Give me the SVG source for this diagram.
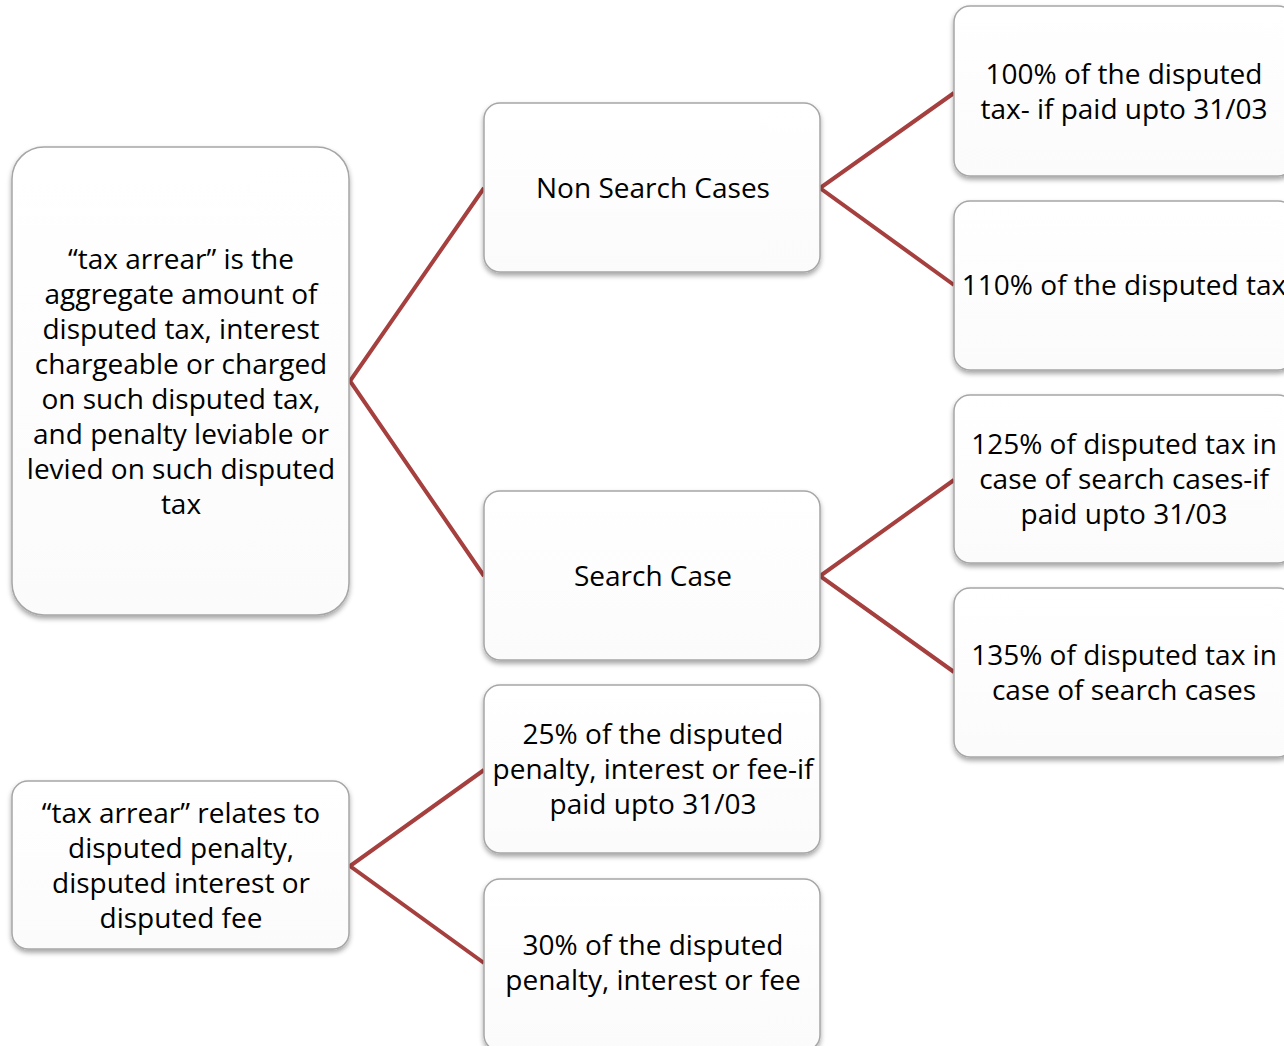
<svg xmlns="http://www.w3.org/2000/svg" width="1284" height="1046" viewBox="0 0 1284 1046">
<defs>
<linearGradient id="g" x1="0" y1="0" x2="0" y2="1">
<stop offset="0" stop-color="#ffffff"/>
<stop offset="1" stop-color="#fbfbfb"/>
</linearGradient>
<filter id="sh" x="-10%" y="-10%" width="120%" height="130%">
<feDropShadow dx="0" dy="3" stdDeviation="2.5" flood-color="#000" flood-opacity="0.35"/>
</filter>
<style>
.box{fill:url(#g);stroke:#a6a6a6;stroke-width:1.5;filter:url(#sh)}
.t{font-family:"Open Sans","Liberation Sans",sans-serif;font-size:28px;fill:#000;text-anchor:middle}
.c{stroke:#a5403f;stroke-width:4;fill:none}
</style>
</defs>
<rect width="1284" height="1046" fill="#fff"/>
<g id="connectors">
<polyline class="c" points="484,188 350,381 484,576"/>
<polyline class="c" points="954,93 820,188 954,285"/>
<polyline class="c" points="954,480 820,576 954,672"/>
<polyline class="c" points="484,770 350,866 484,963"/>
</g>
<g id="tax-arrear">
<rect class="box" x="12" y="147" width="337" height="468" rx="32"/>
<text class="t"><tspan x="181" y="269">“tax arrear” is the</tspan><tspan x="181" y="304">aggregate amount of</tspan><tspan x="181" y="339">disputed tax, interest</tspan><tspan x="181" y="374">chargeable or charged</tspan><tspan x="181" y="409">on such disputed tax,</tspan><tspan x="181" y="444">and penalty leviable or</tspan><tspan x="181" y="479">levied on such disputed</tspan><tspan x="181" y="514">tax</tspan></text>
</g>
<g id="non-search">
<rect class="box" x="484" y="103" width="336" height="169" rx="16"/>
<text class="t" x="653" y="198">Non Search Cases</text>
</g>
<g id="search">
<rect class="box" x="484" y="491" width="336" height="169" rx="16"/>
<text class="t" x="653" y="586">Search Case</text>
</g>
<g id="pct25">
<rect class="box" x="484" y="685" width="336" height="168" rx="16"/>
<text class="t"><tspan x="653" y="744">25% of the disputed</tspan><tspan x="653" y="779">penalty, interest or fee-if</tspan><tspan x="653" y="814">paid upto 31/03</tspan></text>
</g>
<g id="pct30">
<rect class="box" x="484" y="879" width="336" height="172" rx="16"/>
<text class="t"><tspan x="653" y="955">30% of the disputed</tspan><tspan x="653" y="990">penalty, interest or fee</tspan></text>
</g>
<g id="penalty">
<rect class="box" x="12" y="781" width="337" height="168" rx="16"/>
<text class="t"><tspan x="181" y="823">“tax arrear” relates to</tspan><tspan x="181" y="858">disputed penalty,</tspan><tspan x="181" y="893">disputed interest or</tspan><tspan x="181" y="928">disputed fee</tspan></text>
</g>
<g id="pct100">
<rect class="box" x="954" y="6" width="340" height="170" rx="16"/>
<text class="t"><tspan x="1124" y="84">100% of the disputed</tspan><tspan x="1124" y="119">tax- if paid upto 31/03</tspan></text>
</g>
<g id="pct110">
<rect class="box" x="954" y="201" width="340" height="169" rx="16"/>
<text class="t" x="1124" y="295">110% of the disputed tax</text>
</g>
<g id="pct125">
<rect class="box" x="954" y="395" width="340" height="168" rx="16"/>
<text class="t"><tspan x="1124" y="454">125% of disputed tax in</tspan><tspan x="1124" y="489">case of search cases-if</tspan><tspan x="1124" y="524">paid upto 31/03</tspan></text>
</g>
<g id="pct135">
<rect class="box" x="954" y="588" width="340" height="169" rx="16"/>
<text class="t"><tspan x="1124" y="665">135% of disputed tax in</tspan><tspan x="1124" y="700">case of search cases</tspan></text>
</g>
</svg>
